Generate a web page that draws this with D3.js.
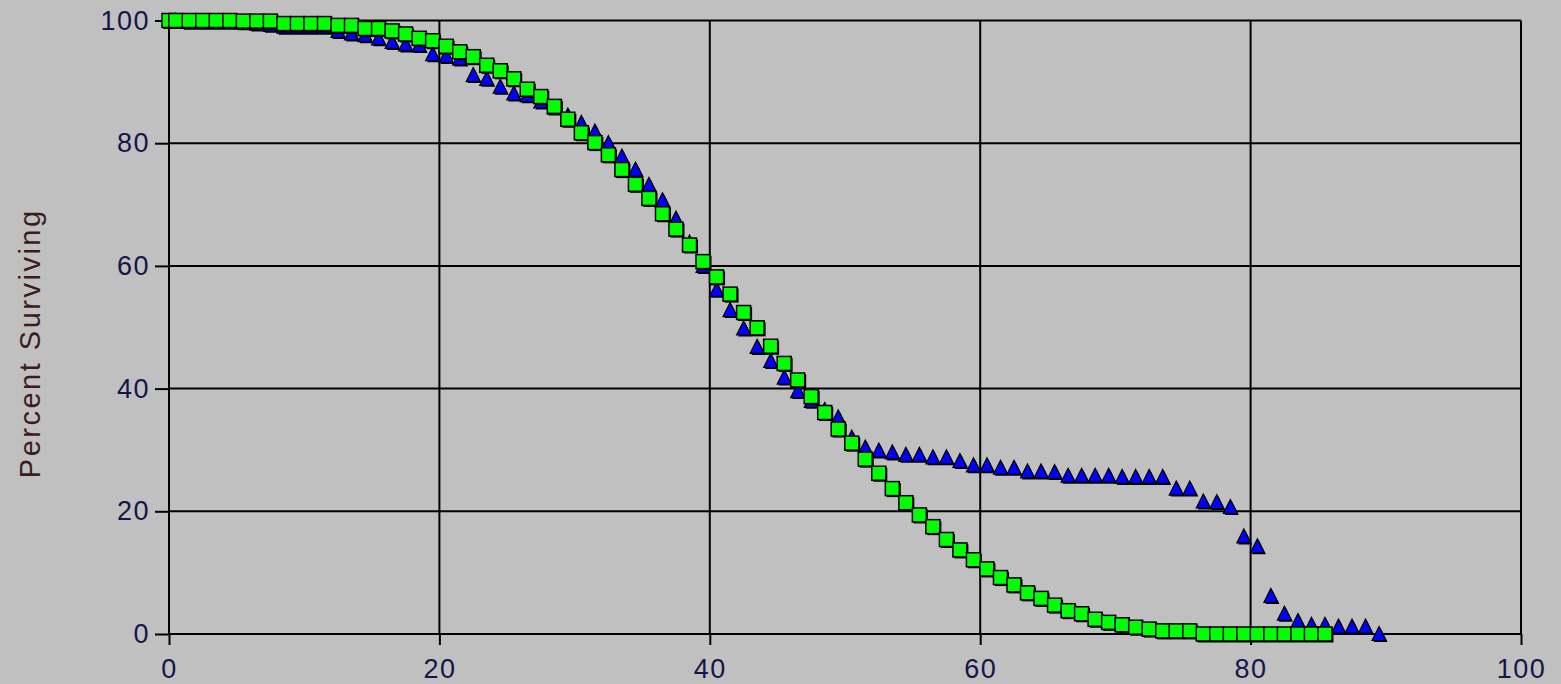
<!DOCTYPE html>
<html>
<head>
<meta charset="utf-8">
<script src="https://cdn.jsdelivr.net/npm/d3@7"></script>
<style>
  html, body { margin: 0; padding: 0; background: #c0c0c0; }
  svg { display: block; }
</style>
</head>
<body>
<script>
// ---- data ----
const xTicks = [0, 20, 40, 60, 80, 100];
const yTicks = [0, 20, 40, 60, 80, 100];
const yLabel = "Percent Surviving";

const squareX = [0, 0.5, 1.5, 2.5, 3.5, 4.5, 5.5, 6.5, 7.5, 8.5, 9.5, 10.5, 11.5, 12.5, 13.5, 14.5, 15.5, 16.5, 17.5, 18.5, 19.5,
  20.5, 21.5, 22.5, 23.5, 24.5, 25.5, 26.5, 27.5, 28.5, 29.5, 30.5, 31.5, 32.5, 33.5, 34.5, 35.5, 36.5, 37.5, 38.5, 39.5,
  40.5, 41.5, 42.5, 43.5, 44.5, 45.5, 46.5, 47.5, 48.5, 49.5, 50.5, 51.5, 52.5, 53.5, 54.5, 55.5, 56.5, 57.5, 58.5, 59.5,
  60.5, 61.5, 62.5, 63.5, 64.5, 65.5, 66.5, 67.5, 68.5, 69.5, 70.5, 71.5, 72.5, 73.5, 74.5, 75.5, 76.5, 77.5, 78.5, 79.5,
  80.5, 81.5, 82.5, 83.5, 84.5, 85.5];
const squareY = [100, 100, 100, 100, 100, 100, 99.9, 99.9, 99.9, 99.5, 99.5, 99.5, 99.5, 99.2, 99.2, 98.7, 98.7, 98.3, 97.8, 97.1, 96.7,
  95.8, 94.9, 94.1, 92.7, 91.8, 90.5, 88.8, 87.6, 86.0, 83.9, 81.7, 80.1, 78.1, 75.7, 73.3, 71.0, 68.5, 66.0, 63.4, 60.7,
  58.2, 55.4, 52.4, 49.9, 46.9, 44.1, 41.4, 38.7, 36.1, 33.4, 31.1, 28.5, 26.2, 23.7, 21.4, 19.4, 17.5, 15.4, 13.7, 12.1,
  10.6, 9.2, 8.0, 6.7, 5.8, 4.7, 3.8, 3.3, 2.4, 1.9, 1.5, 1.1, 0.8, 0.5, 0.5, 0.5, 0, 0, 0, 0,
  0, 0, 0, 0, 0, 0];

const triX = [0.5, 1.5, 2.5, 3.5, 4.5, 5.5, 6.5, 7.5, 8.5, 9.5, 10.5, 11.5, 12.5, 13.5, 14.5, 15.5, 16.5, 17.5, 18.5, 19.5,
  20.5, 21.5, 22.5, 23.5, 24.5, 25.5, 26.5, 27.5, 28.5, 29.5, 30.5, 31.5, 32.5, 33.5, 34.5, 35.5, 36.5, 37.5, 38.5, 39.5,
  40.5, 41.5, 42.5, 43.5, 44.5, 45.5, 46.5, 47.5, 48.5, 49.5, 50.5, 51.5, 52.5, 53.5, 54.5, 55.5, 56.5, 57.5, 58.5, 59.5,
  60.5, 61.5, 62.5, 63.5, 64.5, 65.5, 66.5, 67.5, 68.5, 69.5, 70.5, 71.5, 72.5, 73.5, 74.5, 75.5, 76.5, 77.5, 78.5, 79.5,
  80.5, 81.5, 82.5, 83.5, 84.5, 85.5, 86.5, 87.5, 88.5, 89.5];
const triY = [100, 99.8, 99.8, 99.8, 99.8, 99.7, 99.5, 99.3, 99.0, 99.0, 99.0, 99.0, 98.3, 97.9, 97.6, 97.1, 96.5, 96.1, 96.0, 94.5,
  94.2, 93.8, 91.1, 90.5, 89.2, 88.1, 87.8, 86.8, 85.8, 84.5, 83.3, 81.9, 80.0, 77.8, 75.7, 73.2, 70.7, 67.7, 63.8, 60.0,
  56.1, 52.8, 49.8, 46.8, 44.5, 41.8, 39.6, 38.0, 36.5, 35.3, 32.0, 30.4, 29.9, 29.6, 29.2, 29.2, 28.8, 28.8, 28.2, 27.5,
  27.5, 27.1, 27.1, 26.5, 26.5, 26.4, 25.8, 25.8, 25.8, 25.8, 25.6, 25.6, 25.6, 25.6, 23.7, 23.7, 21.6, 21.5, 20.7, 15.9,
  14.3, 6.2, 3.3, 2.1, 1.5, 1.5, 1.2, 1.2, 1.2, 0];

// ---- layout ----
const W = 1561, H = 684;
const svg = d3.select("body").append("svg").attr("width", W).attr("height", H);
svg.append("rect").attr("width", W).attr("height", H).attr("fill", "#c0c0c0");

const x = d3.scaleLinear().domain([0, 100]).range([169, 1521]);
const y = d3.scaleLinear().domain([0, 100]).range([634, 20.5]);

const fontFam = "'Liberation Sans', Arial, sans-serif";

// gridlines
const grid = svg.append("g");
grid.selectAll("line.v").data(xTicks).join("line")
  .attr("x1", d => x(d)).attr("x2", d => x(d))
  .attr("y1", y(100)).attr("y2", y(0))
  .attr("stroke", "#000").attr("stroke-width", 2);
grid.selectAll("line.h").data(yTicks).join("line")
  .attr("x1", x(0)).attr("x2", x(100))
  .attr("y1", d => y(d)).attr("y2", d => y(d))
  .attr("stroke", "#000").attr("stroke-width", 2);

// axes
const yAxis = d3.axisLeft(y).tickValues(yTicks).tickSize(14).tickPadding(5).tickFormat(d3.format("d"));
const gy = svg.append("g").attr("transform", `translate(${x(0)},0)`).call(yAxis);
gy.select(".domain").remove();
gy.selectAll(".tick line").attr("stroke", "#000").attr("stroke-width", 2);
gy.selectAll(".tick text").attr("fill", "#15154a").style("font-family", fontFam)
  .style("font-size", "27px").style("letter-spacing", "1.5px");

const xAxis = d3.axisBottom(x).tickValues(xTicks).tickSize(11).tickPadding(14).tickFormat(d3.format("d"));
const gx = svg.append("g").attr("transform", `translate(0,${y(0)})`).call(xAxis);
gx.select(".domain").remove();
gx.selectAll(".tick line").attr("stroke", "#000").attr("stroke-width", 2);
gx.selectAll(".tick text").attr("fill", "#15154a").style("font-family", fontFam)
  .style("font-size", "27px").style("letter-spacing", "1.5px");

// y label
svg.append("text")
  .attr("transform", `translate(40,${(y(0) + y(100)) / 2 + 16}) rotate(-90)`)
  .attr("text-anchor", "middle")
  .style("font-family", fontFam).style("font-size", "29px").style("letter-spacing", "2.5px")
  .attr("fill", "#3a1c1c")
  .text(yLabel);

// triangles (drawn first, beneath squares)
const triPts = triX.map((v, i) => ({ x: v, y: triY[i] }));
const triPath = "M0,-7.5 L7,6.5 L-7,6.5 Z";
const tg = svg.append("g");
tg.selectAll("path.sh").data(triPts).join("path")
  .attr("d", triPath)
  .attr("transform", d => `translate(${x(d.x) + 1.5},${y(d.y) + 1.5})`)
  .attr("fill", "#000");
tg.selectAll("path.m").data(triPts).join("path")
  .attr("d", triPath)
  .attr("transform", d => `translate(${x(d.x)},${y(d.y)})`)
  .attr("fill", "#0000ff").attr("stroke", "#000").attr("stroke-width", 1.2);

// squares
const sqPts = squareX.map((v, i) => ({ x: v, y: squareY[i] }));
const s = 14;
const sg = svg.append("g");
sqPts.forEach(d => {
  sg.append("rect")
    .attr("x", x(d.x) - s / 2 + 1.5).attr("y", y(d.y) - s / 2 + 1.5)
    .attr("width", s).attr("height", s).attr("fill", "#000");
  sg.append("rect")
    .attr("x", x(d.x) - s / 2).attr("y", y(d.y) - s / 2)
    .attr("width", s).attr("height", s)
    .attr("fill", "#00ff00").attr("stroke", "#000").attr("stroke-width", 1.5);
});
</script>
</body>
</html>
